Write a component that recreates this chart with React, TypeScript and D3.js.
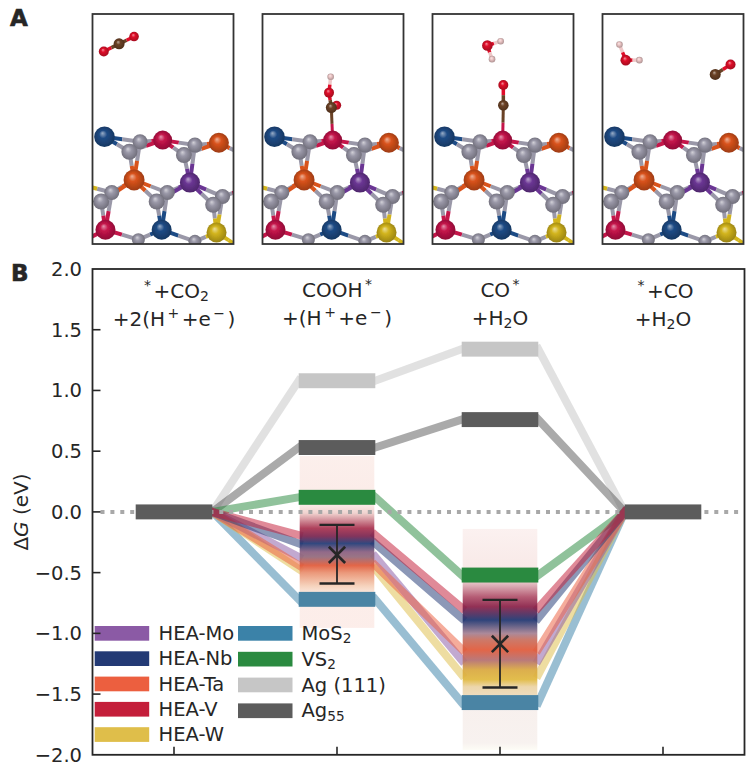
import React from 'react';
import * as d3 from 'd3';

// energy levels at the four reaction states
const heaMo = [0, -0.37, -1.22, 0];
const heaNb = [0, -0.26, -0.875, 0];
const heaTa = [0, -0.44, -1.13, 0];
const heaV = [0, -0.19, -0.79, 0];
const heaW = [0, -0.47, -1.34, 0];
const mos2 = [0, -0.72, -1.57, 0];
const vs2 = [0, 0.12, -0.52, 0];
const ag111 = [0, 1.08, 1.34, 0];
const ag55 = [0, 0.53, 0.76, 0];

const lineSeries: [number[], string][] = [
  [ag111, '#c6c6c6'],
  [ag55, '#5c5c5c'],
  [vs2, '#2a8a40'],
  [mos2, '#3b82a8'],
  [heaW, '#dfbe4a'],
  [heaMo, '#8b5aa5'],
  [heaTa, '#ec5f3f'],
  [heaNb, '#233a75'],
  [heaV, '#c41e3a'],
];

// spread of the HEA sites, drawn as a vertical colour band: [value, colour]
const cooBand: [number, string][] = [
  [0.46, '#fbeeea'], [0.06, '#fbe9e6'], [-0.01, '#efd0cc'], [-0.135, '#a8324f'],
  [-0.2, '#7a2550'], [-0.26, '#233a75'], [-0.33, '#8a5f80'], [-0.37, '#936a7c'],
  [-0.44, '#e05a3a'], [-0.5, '#e99070'], [-0.61, '#f5d0b8'], [-0.66, '#f9e2d6'],
  [-0.68, '#fcecE8'], [-0.955, '#fcecE8'],
];
const coBand: [number, string][] = [
  [-0.14, '#fbf0ef'], [-0.45, '#f8e8e6'], [-0.585, '#e3bcc0'], [-0.7, '#b0506a'],
  [-0.78, '#8a2148'], [-0.89, '#1f3570'], [-1.0, '#a58092'], [-1.05, '#c77060'],
  [-1.135, '#e05a3a'], [-1.22, '#b56f70'], [-1.3, '#d9a840'], [-1.38, '#e0b83f'],
  [-1.44, '#ebd3a5'], [-1.51, '#ecd8b8'], [-1.63, '#f7efec'], [-1.9, '#f7f1ee'], [-1.96, '#fdfcf5'],
];
const bandColumns: [number, [number, string][]][] = [[1, cooBand], [2, coBand]];

// mean and spread of the HEA sites
const errorBars = [
  { state: 1, mean: -0.354, low: -0.59, high: -0.107 },
  { state: 2, mean: -1.087, low: -1.446, high: -0.724 },
];

const yTicks = [2, 1.5, 1, 0.5, 0, -0.5, -1, -1.5, -2];
const xTicks = [0, 1, 2, 3];

type Seg = [string, string?];
const stateLabels: Seg[][][] = [
  [[['*', 'sup'], ['+CO'], ['2', 'sub']], [['+2(H'], ['+', 'sup'], ['+e'], ['−', 'sup'], [')']]],
  [[['COOH'], ['*', 'sup']], [['+(H'], ['+', 'sup'], ['+e'], ['−', 'sup'], [')']]],
  [[['CO'], ['*', 'sup']], [['+H'], ['2', 'sub'], ['O']]],
  [[['*', 'sup'], ['+CO']], [['+H'], ['2', 'sub'], ['O']]],
];

const legendLeft: [string, string][] = [
  ['HEA-Mo', '#8b5aa5'], ['HEA-Nb', '#233a75'], ['HEA-Ta', '#ec5f3f'], ['HEA-V', '#c41e3a'], ['HEA-W', '#dfbe4a'],
];
const legendRight: [Seg[], string][] = [
  [[['MoS'], ['2', 'sub']], '#3b82a8'],
  [[['VS'], ['2', 'sub']], '#2a8a40'],
  [[['Ag (111)']], '#c6c6c6'],
  [[['Ag'], ['55', 'sub']], '#5c5c5c'],
];

// atoms of panel A, in slab cell units
const elements: Record<string, string> = {
  Gr: '#9a98a8', Bl: '#1f4b85', Cr: '#c4134a', Or: '#d8521b', Pu: '#6a3593', Ye: '#d2b41c',
  O: '#e0102a', C: '#6b4226', H: '#eec8c8',
};
type Atom = [string, number, number, number];
const slab: Atom[] = [
  ['Bl', 36, 370, 10.3], ['Gr', 143, 385, 7.5], ['Gr', 111, 415, 8], ['Cr', 211, 380, 9.5],
  ['Gr', 308, 395, 7.5], ['Gr', 275, 425, 8], ['Or', 380, 388, 10], ['Or', 125, 500, 10.5],
  ['Pu', 293, 508, 10], ['Gr', 58, 538, 7.5], ['Gr', 26, 565, 8], ['Gr', 225, 538, 7.5],
  ['Gr', 193, 565, 8], ['Gr', 391, 550, 7.5], ['Gr', 363, 575, 8], ['Cr', 39, 650, 10],
  ['Bl', 208, 650, 10], ['Ye', 373, 658, 10], ['Gr', 138, 680, 6.5], ['Gr', 308, 685, 6.5],
  ['Gr', 445, 420, 7], ['Ye', -30, 515, 8], ['Cr', 450, 530, 8], ['Cr', -40, 690, 8],
  ['Ye', 445, 705, 8],
];
const slabBonds = [
  [0, 1], [0, 2], [1, 3], [2, 3], [3, 4], [3, 5], [4, 6], [5, 6], [1, 7], [2, 7], [4, 8], [5, 8],
  [7, 9], [7, 10], [7, 11], [7, 12], [8, 11], [8, 12], [8, 13], [8, 14], [9, 15], [10, 15],
  [11, 16], [12, 16], [13, 17], [14, 17], [15, 18], [16, 18], [16, 19], [17, 19], [6, 20],
  [9, 21], [13, 22], [15, 23], [17, 24],
];
const adsorbates: { atoms: Atom[]; bonds: number[][] }[] = [
  { atoms: [['O', 34, 113, 5], ['C', 80, 90, 5.5], ['O', 125, 68, 4.8]], bonds: [[0, 1], [1, 2]] },
  {
    atoms: [['H', 205, 189, 3.3], ['O', 200, 237, 5], ['O', 223, 275, 4.5], ['C', 207, 282, 5.5]],
    bonds: [[0, 1], [1, 3], [2, 3]],
  },
  {
    atoms: [['O', 165, 95, 5.3], ['H', 205, 82, 3.3], ['H', 179, 136, 3.3], ['O', 213, 214, 5], ['C', 213, 275, 5.3]],
    bonds: [[0, 1], [0, 2], [3, 4]],
  },
  {
    atoms: [['H', 51, 92, 3.3], ['O', 70, 139, 5.3], ['H', 111, 139, 3.3], ['O', 385, 152, 5], ['C', 339, 182, 5.5]],
    bonds: [[0, 1], [1, 2], [3, 4]],
  },
];
const panelLefts = [92.5, 262.5, 432.5, 602.5];

const font = '"DejaVu Sans", sans-serif';
const ink = '#262626';

const x = d3.scaleLinear().domain([-0.5, 3.5]).range([92.5, 744.5]);
const y = d3.scaleLinear().domain([-2, 2]).range([754.8, 269]);
const levelHalf = 0.235;
const levelThick = 0.0615;
const line = d3.line();

const SegText = ({ segs, size }: { segs: Seg[]; size: number }) => {
  // keeps the baseline by undoing each shift on the next span
  let shift = 0;
  return (
    <>
      {segs.map(([t, kind], i) => {
        const next = kind === 'sup' ? -size * 0.38 : kind === 'sub' ? size * 0.17 : 0;
        const dy = next - shift;
        shift = next;
        const gap = kind === 'sup' || (i > 0 && segs[i - 1][1] === 'sup') ? 2.5 : 0;
        return (
          <tspan key={i} dy={dy} dx={gap} fontSize={kind ? size * 0.7 : size}>
            {t}
          </tspan>
        );
      })}
    </>
  );
};

const Panel = ({ left, index }: { left: number; index: number }) => {
  const u = d3.scaleLinear().domain([0, 424]).range([left, left + 141]);
  const v = d3.scaleLinear().domain([0, 693]).range([14, 244]);
  const ads = adsorbates[index];

  const bond = (a: Atom, b: Atom, w: number, key: string) => {
    const mx = (u(a[1]) + u(b[1])) / 2;
    const my = (v(a[2]) + v(b[2])) / 2;
    return (
      <g key={key} strokeWidth={w}>
        <path d={line([[u(a[1]), v(a[2])], [mx, my]]) as string} stroke={elements[a[0]]} />
        <path d={line([[mx, my], [u(b[1]), v(b[2])]]) as string} stroke={elements[b[0]]} />
      </g>
    );
  };
  const ball = (a: Atom, key: string) => (
    <circle key={key} cx={u(a[1])} cy={v(a[2])} r={a[3]} fill={`url(#atom-${a[0]})`} />
  );
  const order = slab.map((a, i) => ({ a, i })).sort((p, q) => (p.a[0] === 'Gr' ? 0 : 1) - (q.a[0] === 'Gr' ? 0 : 1));

  return (
    <g>
      <clipPath id={`panel-${index}`}>
        <rect x={left} y={14} width={141} height={230} />
      </clipPath>
      <g clipPath={`url(#panel-${index})`} filter="url(#soft)">
        {slabBonds.map(([a, b], i) => bond(slab[a], slab[b], 4, `b${i}`))}
        {index === 1 && bond(ads.atoms[3], slab[3], 3, 'anchor')}
        {index === 2 && bond(ads.atoms[4], slab[3], 3, 'anchor')}
        {order.map(({ a, i }) => ball(a, `a${i}`))}
        {ads.bonds.map(([a, b], i) => bond(ads.atoms[a], ads.atoms[b], 3.5, `ab${i}`))}
        {ads.atoms.map((a, i) => ball(a, `aa${i}`))}
      </g>
      <rect x={left} y={14} width={141} height={230} fill="none" stroke="#333" strokeWidth={1.8} />
    </g>
  );
};

export default function App() {
  const symbolX = d3.symbol().type(d3.symbolX).size(175)() as string;
  return (
    <svg
      width={753}
      height={775}
      style={{ position: 'absolute', left: 0, top: 0, background: '#fff' }}
      fontFamily={font}
    >
      <defs>
        <filter id="soft">
          <feGaussianBlur stdDeviation="0.35" />
        </filter>
        {Object.entries(elements).map(([k, c]) => (
          <radialGradient key={k} id={`atom-${k}`} cx="0.5" cy="0.5" r="0.55" fx="0.4" fy="0.32">
            <stop offset="0" stopColor={d3.interpolateRgb(c, '#fff')(0.55)} />
            <stop offset="0.35" stopColor={c} />
            <stop offset="1" stopColor={d3.interpolateRgb(c, '#000')(0.3)} />
          </radialGradient>
        ))}
        {bandColumns.map(([s, stops]) => {
          const top = stops[0][0];
          const bottom = stops[stops.length - 1][0];
          return (
            <linearGradient
              key={s}
              id={`band-${s}`}
              gradientUnits="userSpaceOnUse"
              x1={0}
              x2={0}
              y1={y(top)}
              y2={y(bottom)}
            >
              {stops.map(([val, c], i) => (
                <stop key={i} offset={(top - val) / (top - bottom)} stopColor={c} />
              ))}
            </linearGradient>
          );
        })}
      </defs>

      <text x={10} y={26} fontSize={23} fontWeight="bold" fill={ink} stroke={ink} strokeWidth={0.6}>A</text>
      <text x={11} y={281} fontSize={23} fontWeight="bold" fill={ink} stroke={ink} strokeWidth={0.6}>B</text>

      {panelLefts.map((l, i) => (
        <Panel key={i} left={l} index={i} />
      ))}

      {/* connectors between the states */}
      {lineSeries.map(([vals, color], k) => (
        <g key={k} stroke={color} strokeWidth={8} strokeOpacity={0.52} strokeLinecap="square" fill="none">
          {vals.slice(0, -1).map((val, i) => (
            <path
              key={i}
              d={line([[x(i + levelHalf), y(val)], [x(i + 1 - levelHalf), y(vals[i + 1])]]) as string}
            />
          ))}
        </g>
      ))}

      {/* colour bands, nearly hiding the connector ends */}
      {bandColumns.map(([s, stops]) => (
        <rect
          key={s}
          x={x(s - levelHalf) + 1}
          width={x(s + levelHalf) - x(s - levelHalf) - 2}
          y={y(stops[0][0])}
          height={y(stops[stops.length - 1][0]) - y(stops[0][0])}
          fill={`url(#band-${s})`}
          fillOpacity={0.93}
        />
      ))}

      <line
        x1={x(-0.5) + 8}
        x2={x(3.5) - 3}
        y1={y(0)}
        y2={y(0)}
        stroke="#a8a8a8"
        strokeWidth={4}
        strokeDasharray="4 5.9"
      />

      {/* levels: the HEA sites have none of their own, only the band */}
      {[
        [mos2, '#4a84a4'],
        [vs2, '#2a8a40'],
        [ag111, '#c6c6c6'],
        [ag55, '#5c5c5c'],
      ].map(([vals, color], k) =>
        (vals as number[]).map((val, i) =>
          i === 0 || i === 3 ? null : (
            <rect
              key={`${k}-${i}`}
              x={x(i - levelHalf)}
              width={x(i + levelHalf) - x(i - levelHalf)}
              y={y(val + levelThick)}
              height={y(val - levelThick) - y(val + levelThick)}
              fill={color as string}
            />
          ),
        ),
      )}
      {[0, 3].map((i) => (
        <rect
          key={i}
          x={x(i - levelHalf)}
          width={x(i + levelHalf) - x(i - levelHalf)}
          y={y(levelThick)}
          height={y(-levelThick) - y(levelThick)}
          fill="#5c5c5c"
        />
      ))}

      {errorBars.map((e) => (
        <g key={e.state} stroke={ink} fill="none">
          <line x1={x(e.state)} x2={x(e.state)} y1={y(e.low)} y2={y(e.high)} strokeWidth={1.8} />
          {[e.low, e.high].map((val) => (
            <line key={val} x1={x(e.state) - 17.5} x2={x(e.state) + 17.5} y1={y(val)} y2={y(val)} strokeWidth={2.4} />
          ))}
          <path d={symbolX} transform={`translate(${x(e.state)},${y(e.mean)})`} strokeWidth={2.6} />
        </g>
      ))}

      {stateLabels.map((lines, i) =>
        lines.map((segs, j) => (
          <text
            key={`${i}-${j}`}
            x={x(i)}
            y={(i === 0 || i === 3 ? 298 : 297) + j * 27.5}
            textAnchor="middle"
            fill={ink}
            fontSize={20}
          >
            <SegText segs={segs} size={20} />
          </text>
        )),
      )}

      {/* legend */}
      {legendLeft.map(([name, color], i) => (
        <g key={name}>
          <rect x={94.7} width={54.5} y={626 + i * 25.3} height={14.7} fill={color} />
          <text x={158.5} y={640 + i * 25.3} fontSize={19.5} fill={ink}>{name}</text>
        </g>
      ))}
      {legendRight.map(([segs, color], i) => (
        <g key={i}>
          <rect x={238} width={54.5} y={626 + i * 25.8} height={14.7} fill={color} />
          <text x={301.5} y={640 + i * 25.8} fontSize={19.5} fill={ink}>
            <SegText segs={segs} size={19.5} />
          </text>
        </g>
      ))}

      {/* axes */}
      <rect
        x={x(-0.5)}
        y={y(2)}
        width={x(3.5) - x(-0.5)}
        height={y(-2) - y(2)}
        fill="none"
        stroke={ink}
        strokeWidth={1.8}
      />
      {yTicks.map((t) => (
        <g key={t}>
          {t !== 2 && t !== -2 && <line x1={x(-0.5)} x2={x(-0.5) + 8} y1={y(t)} y2={y(t)} stroke={ink} strokeWidth={1.6} />}
          <text x={82} y={y(t) + 7} textAnchor="end" fontSize={19.5} fill={ink}>
            {d3.format('.1f')(t)}
          </text>
        </g>
      ))}
      {xTicks.map((t) => (
        <line key={t} x1={x(t)} x2={x(t)} y1={y(-2)} y2={y(-2) - 8} stroke={ink} strokeWidth={1.6} />
      ))}
      <text transform="translate(28,512) rotate(-90)" textAnchor="middle" fontSize={20} fill={ink}>
        Δ<tspan fontStyle="italic">G</tspan> (eV)
      </text>
    </svg>
  );
}
